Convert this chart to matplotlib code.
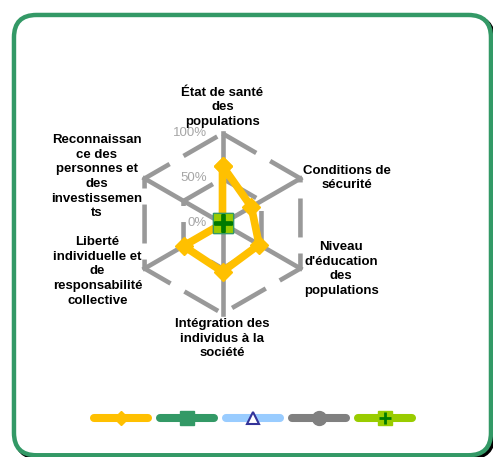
import matplotlib
matplotlib.use("Agg")
import matplotlib.pyplot as plt
from matplotlib.lines import Line2D
from matplotlib.patches import FancyBboxPatch
import numpy as np

# Chart data
categories = [
    "État de santé\ndes\npopulations",
    "Conditions de\nsécurité",
    "Niveau\nd'éducation\ndes\npopulations",
    "Intégration des\nindividus à la\nsociété",
    "Liberté\nindividuelle et\nde\nresponsabilité\ncollective",
    "Reconnaissan\nce des\npersonnes et\ndes\ninvestissemen\nts",
]
series_1 = [0.64, 0.37, 0.47, 0.535, 0.50, 0.0]
series_2 = [0, 0, 0, 0, 0, 0]
series_3 = [0, 0, 0, 0, 0, 0]
series_4 = [0, 0, 0, 0, 0, 0]
series_5 = [0, 0, 0, 0, 0, 0]
ring_ticks = [0.0, 0.5, 1.0]
tick_labels = ["0%", "50%", "100%"]

# Layout (data units: 1.0 = 100% radius)
label_pos = [(0, 1.29), (1.38, 0.505), (1.32, -0.505),
             (0, -1.28), (-1.39, -0.53), (-1.40, 0.52)]
GRID = "#999999"
FONT = "Liberation Sans"


def to_xy(values):
    """Convert radial values to closed x/y lists (clockwise from the top)."""
    n = len(values)
    theta = np.deg2rad(90 - 360.0 / n * np.arange(n))
    r = np.asarray(values, dtype=float)
    x = np.append(r * np.cos(theta), r[0] * np.cos(theta[0]))
    y = np.append(r * np.sin(theta), r[0] * np.sin(theta[0]))
    return x, y


fig = plt.figure(figsize=(4.93, 4.57), dpi=100)
ax = fig.add_axes([0, 0, 1, 1])
ax.set_xlim(-222.5 / 90, (493 - 222.5) / 90)
ax.set_ylim(-(457 - 223.5) / 90, 223.5 / 90)
ax.axis("off")

# Rounded green frame with a small shadow
shadow = FancyBboxPatch((-2.317 + 0.025, -2.575 - 0.025), 5.3, 4.892,
                        boxstyle="round,pad=0,rounding_size=0.25",
                        facecolor="none", edgecolor="black", linewidth=3.2, zorder=0)
frame = FancyBboxPatch((-2.317, -2.575), 5.3, 4.892,
                       boxstyle="round,pad=0,rounding_size=0.25",
                       facecolor="white", edgecolor="#339966", linewidth=3.2, zorder=1)
ax.add_patch(shadow)
ax.add_patch(frame)

# Hexagonal grid: dashed rings and solid spokes
n = len(categories)
for t in ring_ticks[1:]:
    gx, gy = to_xy([t] * n)
    ax.plot(gx, gy, color=GRID, linewidth=3.3, linestyle=(0, (8.5, 3.5)), zorder=2)
ox, oy = to_xy([1.0] * n)
for i in range(n):
    ax.plot([0, ox[i]], [0, oy[i]], color=GRID, linewidth=3.3, zorder=2)

# Radial tick labels along the top axis
for t, lab in zip(ring_ticks, tick_labels):
    ax.text(-0.17, t, lab, ha="right", va="center", fontsize=9.5,
            color="#A6A6A6", family=FONT, zorder=3)

# Category labels
for lab, (lx, ly) in zip(categories, label_pos):
    ax.text(lx, ly, lab, ha="center", va="center", fontsize=9.5,
            fontweight="bold", family=FONT, linespacing=1.3, zorder=3)

# Series
x1, y1 = to_xy(series_1)
ax.plot(x1, y1, color="#FFC000", linewidth=5.5, marker="D", markersize=9,
        solid_joinstyle="round", zorder=4)
x2, y2 = to_xy(series_2)
ax.plot(x2, y2, color="#339966", linewidth=5.5, marker="s", markersize=10, zorder=5)
x3, y3 = to_xy(series_3)
ax.plot(x3, y3, color="#99CCFF", linewidth=5.5, marker="^", markersize=10,
        markerfacecolor="white", markeredgecolor="#333399", markeredgewidth=1.5, zorder=6)
x4, y4 = to_xy(series_4)
ax.plot(x4, y4, color="#808080", linewidth=5.5, marker="o", markersize=10, zorder=7)
x5, y5 = to_xy(series_5)
ax.plot(x5, y5, color="#99CC00", linewidth=5.5, marker="s", markersize=15,
        markeredgecolor="#339966", markeredgewidth=0.8, zorder=8)
ax.plot(x5, y5, linestyle="none", marker="+", markersize=13,
        markeredgecolor="#007A00", markeredgewidth=2.5, zorder=9)

# Legend (no text, only line + marker keys)
kw = dict(linewidth=5.8, solid_capstyle="round")
handles = [
    Line2D([], [], color="#FFC000", marker="D", markersize=7, **kw),
    Line2D([], [], color="#339966", marker="s", markersize=10, **kw),
    Line2D([], [], color="#99CCFF", marker="^", markersize=9, markerfacecolor="white",
           markeredgecolor="#333399", markeredgewidth=1.5, **kw),
    Line2D([], [], color="#808080", marker="o", markersize=10, **kw),
    (Line2D([], [], color="#99CC00", marker="s", markersize=10, **kw),
     Line2D([], [], linestyle="none", marker="+", markersize=9,
            markeredgecolor="#007A00", markeredgewidth=2)),
]
fig.legend(handles, [""] * 5, loc="center", bbox_to_anchor=(0.513, 0.083),
           ncol=5, frameon=False, prop={"size": 10}, handlelength=3.9,
           handletextpad=0, columnspacing=0.85, numpoints=1)

fig.savefig("out.png", dpi=100)
